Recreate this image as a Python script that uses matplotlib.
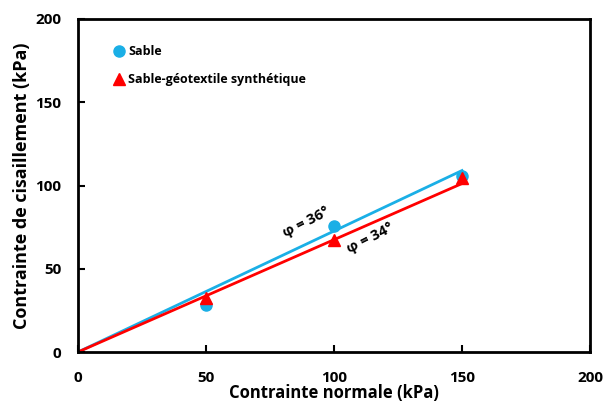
import numpy as np
import matplotlib.pyplot as plt

plt.rcParams['font.family'] = ['Open Sans', 'DejaVu Sans']

# Données
sigma = [50, 100, 150]
tau_sable = [28.5, 75.5, 105.5]
tau_geo = [32.5, 67, 104.5]
phi_sable = 36
phi_geo = 34

x = np.array([0, 150])

fig = plt.figure(figsize=(6.07, 4.05), dpi=100)
ax = fig.add_axes([78/607, 53/405, 512/607, 333/405])

ax.plot(x, np.tan(np.radians(phi_sable)) * x, color="#1AAFE6", lw=2, zorder=2)
ax.plot(x, np.tan(np.radians(phi_geo)) * x, color="#FF0000", lw=2, zorder=2)
ax.plot(sigma, tau_sable, "o", color="#1AAFE6", ms=8, ls="none",
        label="Sable", zorder=3)
ax.plot(sigma, tau_geo, "^", color="#FF0000", ms=8, ls="none",
        label="Sable-géotextile synthétique", zorder=4)

ax.text(89, 78, "φ = 36°", rotation=27, fontsize=10.5, fontweight="bold",
        ha="center", va="center")
ax.text(114, 68, "φ = 34°", rotation=27, fontsize=10.5, fontweight="bold",
        ha="center", va="center")

ax.set_xlim(0, 200)
ax.set_ylim(0, 200)
ax.set_xticks([0, 50, 100, 150, 200])
ax.set_yticks([0, 50, 100, 150, 200])
ax.tick_params(direction="in", length=5, width=1.5, labelsize=11)
ax.tick_params(axis="x", pad=14)
ax.tick_params(axis="y", pad=12)
for lab in ax.get_xticklabels() + ax.get_yticklabels():
    lab.set_fontweight("bold")
for s in ax.spines.values():
    s.set_linewidth(2)

ax.set_xlabel("Contrainte normale (kPa)", fontsize=12, fontweight="bold",
              labelpad=-1)
ax.set_ylabel("Contrainte de cisaillement (kPa)", fontsize=13,
              fontweight="bold", labelpad=3)

ax.legend(loc="upper left", bbox_to_anchor=(0.04, 0.955), frameon=False,
          handletextpad=0.0, handlelength=1.5, labelspacing=1.2,
          prop={"weight": "bold", "size": 9})

plt.savefig("out.png", dpi=100)
